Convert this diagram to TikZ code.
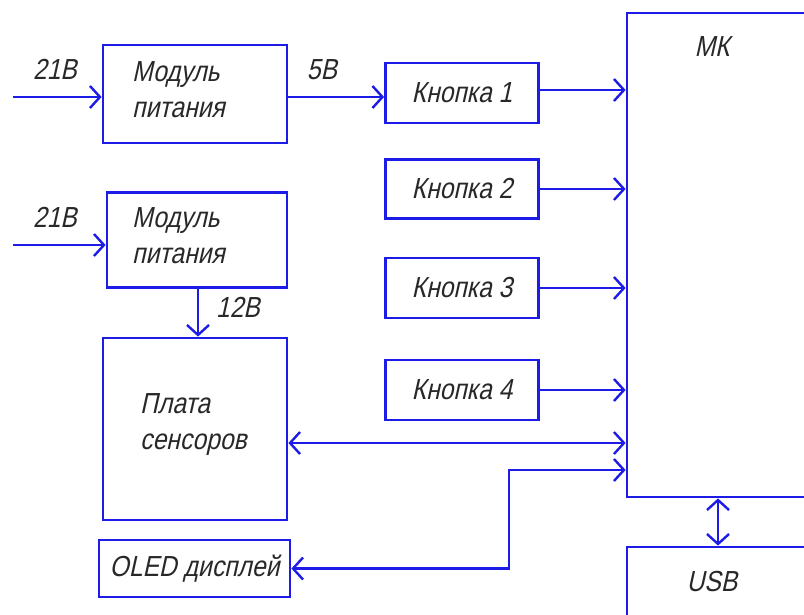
\documentclass[tikz,border=0pt]{standalone}
\usepackage{fontspec}
\newfontfamily\gost[FakeSlant=0.22,FakeStretch=0.85]{Liberation Sans}
\usetikzlibrary{arrows.meta}
\definecolor{lblue}{RGB}{28,28,230}
\definecolor{ink}{RGB}{40,40,40}
\tikzset{
  x=1pt, y=-1pt,
  blk/.style={draw=lblue, line width=2.8pt, fill=white, inner sep=0pt, font=\gost\fontsize{29}{36}\selectfont, text=ink, align=center},
  lbl/.style={font=\gost\fontsize{29}{36}\selectfont, text=ink, inner sep=0pt},
  conn/.style={draw=lblue, line width=2.6pt, arrows={-Straight Barb[length=10pt,width=22pt,line width=2.4pt]}},
  conn2/.style={draw=lblue, line width=2.6pt, arrows={Straight Barb[length=10pt,width=22pt,line width=2.4pt]-Straight Barb[length=10pt,width=22pt,line width=2.4pt]}}
}
\begin{document}
\begin{tikzpicture}
\clip (0,0) rectangle (804,614);
\fill[white] (0,0) rectangle (804,614);
% blocks
\node[blk, minimum width=184pt, minimum height=98pt] (pm1) at (195,94) {};
\node[lbl, align=left, anchor=west] (pm1t) at (132,90) {Модуль\\питания};
\node[blk, minimum width=180pt, minimum height=95pt] (pm2) at (197,240) {};
\node[lbl, align=left, anchor=west] (pm2t) at (132,236) {Модуль\\питания};
\node[blk, minimum width=184pt, minimum height=182pt] (plata) at (195,429) {};
\node[lbl, align=left, anchor=west] (platat) at (140,425) {Плата\\сенсоров};
\node[blk, minimum width=153pt, minimum height=60pt] (k1) at (462,93) {Кнопка 1};
\node[blk, minimum width=153pt, minimum height=59pt] (k2) at (462,189) {Кнопка 2};
\node[blk, minimum width=153pt, minimum height=60pt] (k3) at (462,288) {Кнопка 3};
\node[blk, minimum width=153pt, minimum height=60pt] (k4) at (462,390) {Кнопка 4};
\node[blk, minimum width=200pt, minimum height=484pt] (mk) at (727,255) {};
\node[lbl] (mklbl) at (712,47) {МК};
\node[blk, minimum width=200pt, minimum height=100pt] (usb) at (727,597) {};
\node[lbl] (usblbl) at (712,582) {USB};
\node[blk, minimum width=191pt, minimum height=57pt] (oled) at (194.5,568.5) {OLED дисплей};
% voltage labels
\node[lbl] (v1) at (55,69) {21В};
\node[lbl] (v2) at (55,217) {21В};
\node[lbl] (v3) at (322,70) {5В};
\node[lbl] (v4) at (238,307) {12В};
% free ends and bends
\coordinate (in1) at (13,97);
\coordinate (in2) at (13,245);
\coordinate (c1) at (509,470);
% connectors
\draw[conn] (in1) -- (in1 -| pm1.west);
\draw[conn] (in2) -- (in2 -| pm2.west);
\draw[conn] (pm1.east |- 0,97) -- (k1.west |- 0,97);
\draw[conn] (k1.east |- 0,90) -- (mk.west |- 0,90);
\draw[conn] (k2.east) -- (k2.east -| mk.west);
\draw[conn] (k3.east) -- (k3.east -| mk.west);
\draw[conn] (k4.east) -- (k4.east -| mk.west);
\draw[conn] (pm2.south -| 198,0) -- (plata.north -| 198,0);
\draw[conn2] (plata.east |- 0,443) -- (mk.west |- 0,443);
\draw[conn2] (oled.east) -| (c1) -- (c1 -| mk.west);
\draw[conn2] (mk.south -| 718,0) -- (usb.north -| 718,0);
\end{tikzpicture}
\end{document}
